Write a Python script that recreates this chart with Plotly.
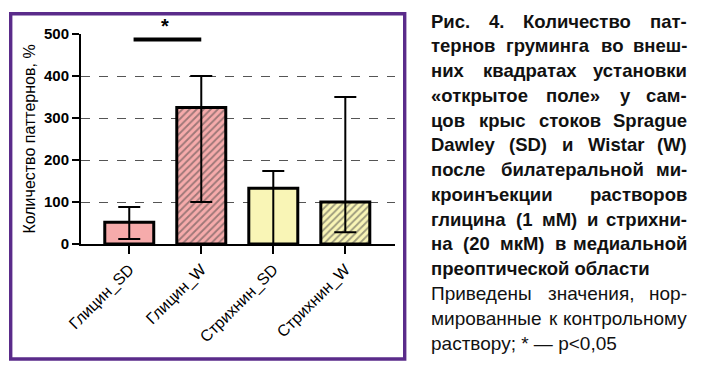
import plotly.graph_objects as go

# ---- data ----
categories = ["Глицин_SD", "Глицин_W", "Стрихнин_SD", "Стрихнин_W"]
means = [52, 325, 133, 100]
err_upper = [88, 400, 174, 350]
err_lower = [12, 100, 0, 28]
y_ticks = [0, 100, 200, 300, 400, 500]
y_title = "Количество паттернов, %"
sig_pair = [0, 1]
sig_level = 487
sig_label = "*"

caption_bold = [
    "Рис. 4. Количество пат-",
    "тернов груминга во внеш-",
    "них квадратах установки",
    "«открытое поле» у сам-",
    "цов крыс стоков Sprague",
    "Dawley (SD) и Wistar (W)",
    "после билатеральной ми-",
    "кроинъекции растворов",
    "глицина (1 мМ) и стрихни-",
    "на (20 мкМ) в медиальной",
    "преоптической области",
]
caption_regular = [
    "Приведены значения, нор-",
    "мированные к контрольному",
    "раствору; * — p<0,05",
]

# ---- styles ----
fill_colors = ["#f6abab", "#f6abab", "#f9f5b6", "#f9f5b6"]
hatch = ["", "/", "", "/"]
hatch_colors = ["#a02030", "#a02030", "#504b15", "#504b15"]

W, H = 702, 372
L, T, R, B = 81, 34, 395, 244  # plot area in px
PW, PH = R - L, B - T

def px_x(px):
    return (px - L) / PW

def px_y(py):
    return (B - py) / PH

fig = go.Figure()
fig.add_trace(go.Bar(
    x=categories,
    y=means,
    width=0.68,
    marker=dict(
        color=fill_colors,
        line=dict(color="black", width=3),
        pattern=dict(shape=hatch, fgcolor=hatch_colors, size=5, solidity=0.38,
                     fillmode="overlay"),
    ),
    error_y=dict(
        type="data", symmetric=False,
        array=[u - m for u, m in zip(err_upper, means)],
        arrayminus=[m - l for m, l in zip(means, err_lower)],
        color="black", thickness=2, width=11,
    ),
    showlegend=False,
))

shapes = []
# purple frame
shapes.append(dict(type="rect", xref="paper", yref="paper",
                   x0=px_x(10.7), x1=px_x(404.7), y0=px_y(359), y1=px_y(13.7),
                   line=dict(color="#5a2b8a", width=3.4), layer="above"))
# significance bar
shapes.append(dict(type="line", xref="x", yref="y",
                   x0=sig_pair[0] + 0.06, x1=sig_pair[1], y0=sig_level, y1=sig_level,
                   line=dict(color="black", width=4)))

annotations = []
annotations.append(dict(x=(sig_pair[0] + sig_pair[1]) / 2 + 0.0, y=sig_level + 2,
                        xref="x", yref="y", text=sig_label, showarrow=False,
                        yanchor="bottom", font=dict(size=20, color="black",
                                                    family="Liberation Sans", weight="bold")))

# ---- caption with justification ----
bold_w = {' ': 278, '.': 278, ',': 278, '-': 333, '(': 333, ')': 333, '«': 556, '»': 556,
          'а': 556, 'б': 618, 'в': 594, 'г': 406, 'д': 601, 'е': 556, 'ж': 788, 'з': 510,
          'и': 618, 'й': 618, 'к': 488, 'л': 604, 'м': 740, 'н': 615, 'о': 611, 'п': 611,
          'р': 611, 'с': 556, 'т': 486, 'у': 556, 'ф': 885, 'х': 556, 'ц': 630, 'ч': 587,
          'ш': 885, 'щ': 906, 'ъ': 656, 'ы': 823, 'ь': 583, 'э': 556, 'ю': 846, 'я': 601,
          'Р': 667, 'К': 722, 'М': 833, 'S': 667, 'D': 722, 'W': 944, 'p': 611, 'r': 389,
          'a': 556, 'g': 611, 'u': 611, 'e': 556, 'w': 778, 'l': 278, 'y': 556, 'i': 278,
          's': 556, 't': 333}
reg_w = {' ': 278, '.': 278, ',': 278, '-': 333, ';': 278, '*': 389, '—': 1000, '<': 584,
         'а': 556, 'б': 573, 'в': 531, 'г': 365, 'д': 583, 'е': 556, 'ж': 669, 'з': 458,
         'и': 559, 'й': 559, 'к': 438, 'л': 583, 'м': 688, 'н': 552, 'о': 556, 'п': 542,
         'р': 556, 'с': 500, 'т': 458, 'у': 500, 'ф': 823, 'х': 500, 'ц': 573, 'ч': 521,
         'ш': 802, 'щ': 823, 'ъ': 625, 'ы': 719, 'ь': 521, 'э': 510, 'ю': 750, 'я': 542,
         'П': 719, 'p': 556}
FS_BOLD, FS_REG = 18.5, 19

def word_width(word, table, fs):
    return sum(table.get(c, 556) for c in word) * fs / 1000.0

TXT_L, TXT_R = 430, 688
LINE0, LINE_STEP = 21, 24.77

all_lines = [(t, True) for t in caption_bold] + [(t, False) for t in caption_regular]
last_in_par = {len(caption_bold) - 1, len(all_lines) - 1}
for i, (text, bold) in enumerate(all_lines):
    py = LINE0 + LINE_STEP * i
    fs = FS_BOLD if bold else FS_REG
    font = dict(family="Liberation Sans", size=fs, color="#111111",
                weight="bold" if bold else "normal")
    if i in last_in_par:
        annotations.append(dict(x=px_x(TXT_L), y=px_y(py), xref="paper", yref="paper",
                                text=text, showarrow=False, xanchor="left", yanchor="middle",
                                borderpad=0, font=font))
        continue
    table = bold_w if bold else reg_w
    words = text.split(" ")
    widths = [word_width(w, table, fs) for w in words]
    gap = (TXT_R - TXT_L - sum(widths)) / (len(words) - 1)
    xcur = TXT_L
    for j, (w, ww) in enumerate(zip(words, widths)):
        if j == len(words) - 1:
            annotations.append(dict(x=px_x(TXT_R), y=px_y(py), xref="paper", yref="paper",
                                    text=w, showarrow=False, xanchor="right", yanchor="middle",
                                    borderpad=0, font=font))
        else:
            annotations.append(dict(x=px_x(xcur), y=px_y(py), xref="paper", yref="paper",
                                    text=w, showarrow=False, xanchor="left", yanchor="middle",
                                    borderpad=0, font=font))
        xcur += ww + gap

fig.update_layout(
    width=W, height=H,
    margin=dict(l=L, r=W - R, t=T, b=H - B, autoexpand=False),
    paper_bgcolor="white", plot_bgcolor="white",
    shapes=shapes, annotations=annotations,
    font=dict(family="Liberation Sans", color="black"),
)
fig.update_xaxes(
    type="category", range=[-0.67, 3.69],
    showline=True, linecolor="black", linewidth=2,
    ticks="outside", ticklen=8, tickwidth=2, tickcolor="black",
    tickangle=-45, tickfont=dict(size=16, family="Liberation Sans", color="black"),
    showgrid=False, zeroline=False,
)
fig.update_yaxes(
    range=[0, 500], tickvals=y_ticks,
    showline=True, linecolor="black", linewidth=2,
    ticks="outside", ticklen=7, tickwidth=2, tickcolor="black",
    tickfont=dict(size=15, family="Liberation Sans", color="black", weight="bold"),
    showgrid=True, gridcolor="#555555", gridwidth=1, griddash="dash",
    zeroline=False,
    title=dict(text=y_title, font=dict(size=16, family="Liberation Sans", color="black"),
               standoff=4),
)

fig.write_html("out.html", config={"displayModeBar": False},
               post_script="document.body.style.margin='0';")
